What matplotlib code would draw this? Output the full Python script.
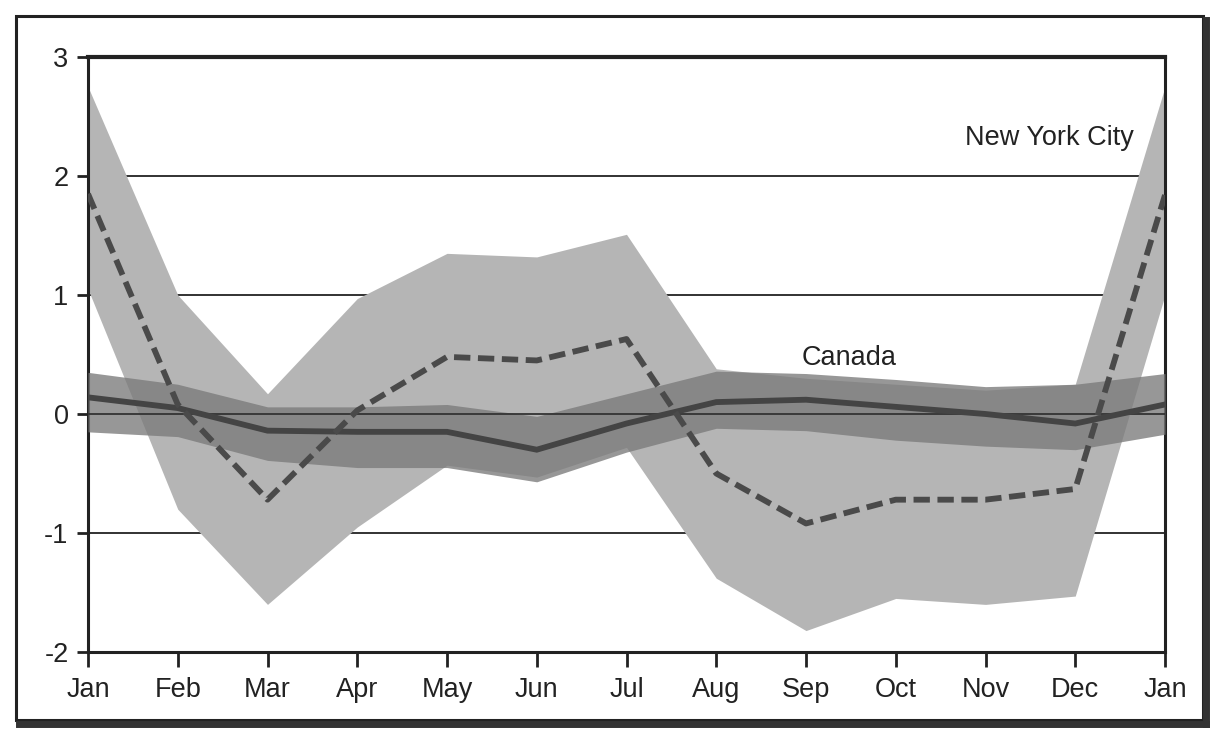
import matplotlib
matplotlib.use("Agg")
import matplotlib.pyplot as plt
from matplotlib.patches import Rectangle
from matplotlib.lines import Line2D
import numpy as np

months = ["Jan", "Feb", "Mar", "Apr", "May", "Jun", "Jul",
          "Aug", "Sep", "Oct", "Nov", "Dec", "Jan"]

nyc_mean = [1.85, 0.08, -0.72, 0.03, 0.48, 0.45, 0.63, -0.50, -0.92, -0.72, -0.72, -0.63, 1.84]
nyc_upper = [2.75, 1.00, 0.17, 0.97, 1.35, 1.32, 1.51, 0.38, 0.30, 0.25, 0.20, 0.25, 2.75]
nyc_lower = [1.05, -0.80, -1.60, -0.95, -0.43, -0.53, -0.28, -1.38, -1.82, -1.55, -1.60, -1.53, 1.00]

can_mean = [0.14, 0.05, -0.14, -0.15, -0.15, -0.30, -0.08, 0.10, 0.12, 0.06, 0.00, -0.08, 0.08]
can_upper = [0.35, 0.25, 0.06, 0.06, 0.08, -0.02, 0.17, 0.36, 0.34, 0.29, 0.23, 0.25, 0.34]
can_lower = [-0.15, -0.19, -0.39, -0.45, -0.45, -0.57, -0.32, -0.12, -0.14, -0.22, -0.27, -0.30, -0.17]

y_ticks = [-2, -1, 0, 1, 2, 3]
grid_levels = [-1, 1, 2]

plt.rcParams['font.family'] = ['Liberation Sans', 'DejaVu Sans']

fig = plt.figure(figsize=(12.11, 7.42), dpi=100)
ax = fig.add_axes([88 / 1211, 1 - 652 / 742, (1165 - 88) / 1211, (652 - 57) / 742])

x = np.arange(len(months))

for g in grid_levels:
    ax.axhline(g, color="#222222", lw=1.3, zorder=1)

ax.fill_between(x, nyc_lower, nyc_upper, color="#b5b5b5", lw=0, zorder=2)
ax.fill_between(x, can_lower, can_upper, color="#7a7a7a", alpha=0.78, lw=0, zorder=3)
ax.axhline(0, color="#333333", lw=1.3, zorder=4)
ax.plot(x, can_mean, color="#444444", lw=4.2, zorder=5, solid_joinstyle="miter")
ax.plot(x, nyc_mean, color="#4a4a4a", lw=4.2, zorder=6, dashes=(2.8, 1.3))

ax.text(10.71, 2.32, "New York City", fontsize=19.5, ha="center", va="center", color="#222222")
ax.text(8.48, 0.47, "Canada", fontsize=19.5, ha="center", va="center", color="#222222")

ax.set_xlim(0, 12)
ax.set_ylim(-2, 3)
ax.set_xticks(x)
ax.set_xticklabels(months, fontsize=19.5)
ax.set_yticks(y_ticks)
ax.set_yticklabels([str(v) for v in y_ticks], fontsize=19.5)
ax.tick_params(axis="x", direction="out", length=11, width=2, pad=7, colors="#222222")
ax.tick_params(axis="y", direction="out", length=8, width=2, pad=6, colors="#222222")
for side in ["left", "bottom", "right"]:
    ax.spines[side].set_linewidth(2.2)
    ax.spines[side].set_color("#222222")
ax.spines["top"].set_linewidth(3.0)
ax.spines["top"].set_color("#222222")

# outer frame with drop shadow
L, R, T, B = 16 / 1211, 1203 / 1211, 1 - 16 / 742, 1 - 720 / 742
fig.add_artist(Rectangle((L, B), R - L, T - B, transform=fig.transFigure,
                         fill=False, lw=2.2, edgecolor="#222222"))
fig.add_artist(Line2D([L + 3 / 1211, R + 3 / 1211], [B - 4 / 742, B - 4 / 742],
                      transform=fig.transFigure, lw=5, color="#333333"))
fig.add_artist(Line2D([R + 3 / 1211, R + 3 / 1211], [B - 4 / 742, T - 4 / 742],
                      transform=fig.transFigure, lw=5, color="#333333"))

fig.savefig("out.png", dpi=100)
